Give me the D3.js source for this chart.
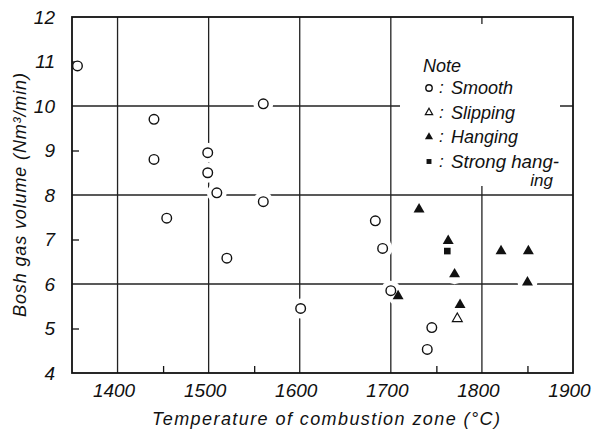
<!DOCTYPE html>
<html>
<head>
<meta charset="utf-8">
<script src="https://cdn.jsdelivr.net/npm/d3@7"></script>
<style>
  body { margin: 0; background: #fff; }
  svg text { font-family: "Liberation Sans", Arial, sans-serif; font-style: italic; fill: #111; }
  .grid line { stroke: #222; stroke-width: 1.3; }
</style>
</head>
<body>
<svg id="chart" width="592" height="437"></svg>
<script>
// values
var xTicks = [1400, 1500, 1600, 1700, 1800, 1900];
var xMinor = [1450, 1550, 1750, 1850];
var yTicks = [4, 5, 6, 7, 8, 9, 10, 11, 12];
var yMinor = [5, 7, 9, 11];
var xGrid = [1400, 1500, 1600, 1700, 1800];
var yGrid = [6, 8, 10];

var smoothT = [1356, 1440, 1440, 1499, 1499, 1509, 1560, 1560, 1454, 1520, 1601, 1683, 1691, 1700, 1745, 1740];
var smoothV = [10.9, 9.7, 8.8, 8.95, 8.5, 8.05, 10.05, 7.85, 7.48, 6.58, 5.45, 7.42, 6.8, 5.85, 5.02, 4.53];
var slippingT = [1773];
var slippingV = [5.22];
var hangingT = [1731, 1708, 1763, 1770, 1776, 1821, 1851, 1850];
var hangingV = [7.68, 5.73, 6.97, 6.22, 5.53, 6.74, 6.74, 6.04];
var strongT = [1762];
var strongV = [6.74];

var legendKeys = ["smooth", "slipping", "hanging", "strong"];
var legendLabels = ["Smooth", "Slipping", "Hanging", "Strong hang-"];

var svg = d3.select("#chart");
var ink = "#111";

var x = d3.scaleLinear().domain([1350, 1900]).range([72, 573]);
var y = d3.scaleLinear().domain([4, 12]).range([373, 17]);

function pts(ts, vs, kind) {
  return ts.map(function(t, i) { return {t: t, v: vs[i], kind: kind}; });
}
var points = [].concat(
  pts(smoothT, smoothV, "smooth"),
  pts(slippingT, slippingV, "slipping"),
  pts(hangingT, hangingV, "hanging"),
  pts(strongT, strongV, "strong"));

// grid
var grid = svg.append("g").attr("class", "grid");
grid.selectAll("line.v").data(xGrid).enter().append("line")
  .attr("class", "v")
  .attr("x1", function(d) { return x(d); }).attr("x2", function(d) { return x(d); })
  .attr("y1", y(12)).attr("y2", y(4));
grid.selectAll("line.h").data(yGrid).enter().append("line")
  .attr("class", "h")
  .attr("x1", x(1350)).attr("x2", x(1900))
  .attr("y1", function(d) { return y(d); }).attr("y2", function(d) { return y(d); });

// the drawn figure leaves the grid blank under the note and round the points
svg.append("rect")
  .attr("x", 400).attr("y", 24).attr("width", 160).attr("height", 162)
  .attr("fill", "#fff");
svg.append("g").selectAll("circle").data(points).enter().append("circle")
  .attr("cx", function(d) { return x(d.t); })
  .attr("cy", function(d) { return y(d.v); })
  .attr("r", 10)
  .attr("fill", "#fff");

// frame
svg.append("rect")
  .attr("x", x(1350)).attr("y", y(12))
  .attr("width", x(1900) - x(1350)).attr("height", y(4) - y(12))
  .attr("fill", "none").attr("stroke", ink).attr("stroke-width", 1.8);

// axes
var xAxis = svg.append("g")
  .attr("transform", "translate(0," + y(4) + ")")
  .call(d3.axisBottom(x).tickValues(xTicks).tickSize(0).tickPadding(11).tickFormat(d3.format("d")));
xAxis.select(".domain").remove();
xAxis.selectAll("text").attr("font-size", 19).attr("dx", -4);

var xMinorAxis = svg.append("g")
  .attr("transform", "translate(0," + y(4) + ")")
  .call(d3.axisBottom(x).tickValues(xMinor).tickSize(-7).tickFormat(""));
xMinorAxis.select(".domain").remove();
xMinorAxis.selectAll("line").attr("stroke", ink).attr("stroke-width", 1.3);

var yAxis = svg.append("g")
  .attr("transform", "translate(" + x(1350) + ",0)")
  .call(d3.axisLeft(y).tickValues(yTicks).tickSize(0).tickPadding(17).tickFormat(d3.format("d")));
yAxis.select(".domain").remove();
yAxis.selectAll("text").attr("font-size", 19);

var yMinorAxis = svg.append("g")
  .attr("transform", "translate(" + x(1350) + ",0)")
  .call(d3.axisLeft(y).tickValues(yMinor).tickSize(-7).tickFormat(""));
yMinorAxis.select(".domain").remove();
yMinorAxis.selectAll("line").attr("stroke", ink).attr("stroke-width", 1.3);

// axis titles
svg.append("text")
  .attr("x", 326).attr("y", 425)
  .attr("text-anchor", "middle")
  .attr("font-size", 18)
  .attr("textLength", 348).attr("lengthAdjust", "spacing")
  .text("Temperature of combustion zone (°C)");

svg.append("text")
  .attr("transform", "translate(26,195) rotate(-90)")
  .attr("text-anchor", "middle")
  .attr("font-size", 18)
  .attr("textLength", 244).attr("lengthAdjust", "spacing")
  .text("Bosh  gas  volume (Nm³/min)");

// markers
function marker(sel, kind, small) {
  var s = small ? 0.55 : 1;
  if (kind === "smooth") {
    sel.append("circle").attr("r", small ? 3.2 : 4.8)
      .attr("fill", "#fff").attr("stroke", ink).attr("stroke-width", 1.4);
  } else if (kind === "slipping") {
    sel.append("path").attr("d", d3.symbol(d3.symbolTriangle, 42 * s)())
      .attr("fill", "#fff").attr("stroke", ink).attr("stroke-width", 1.2);
  } else if (kind === "hanging") {
    sel.append("path").attr("d", d3.symbol(d3.symbolTriangle, 52 * s)())
      .attr("fill", ink);
  } else {
    sel.append("path").attr("d", d3.symbol(d3.symbolSquare, 44 * s)())
      .attr("fill", ink);
  }
}

svg.append("g").selectAll("g").data(points).enter().append("g")
  .attr("transform", function(d) { return "translate(" + x(d.t) + "," + y(d.v) + ")"; })
  .each(function(d) { marker(d3.select(this), d.kind, false); });

// note
var note = svg.append("g");
note.append("text").attr("x", 423).attr("y", 72).attr("font-size", 18).text("Note");
legendKeys.forEach(function(k, i) {
  var cy = 88 + i * 24.5;
  var g = note.append("g").attr("transform", "translate(429," + cy + ")");
  marker(g, k, true);
  note.append("text").attr("x", 439).attr("y", cy + 5).attr("font-size", 17).text(":");
  var t = note.append("text").attr("x", 451).attr("y", cy + 6).attr("font-size", 18).text(legendLabels[i]);
  if (i === 3) t.attr("textLength", 108).attr("lengthAdjust", "spacingAndGlyphs");
});
note.append("text").attr("x", 553).attr("y", 186).attr("font-size", 17)
  .attr("text-anchor", "end").text("ing");
</script>
</body>
</html>
